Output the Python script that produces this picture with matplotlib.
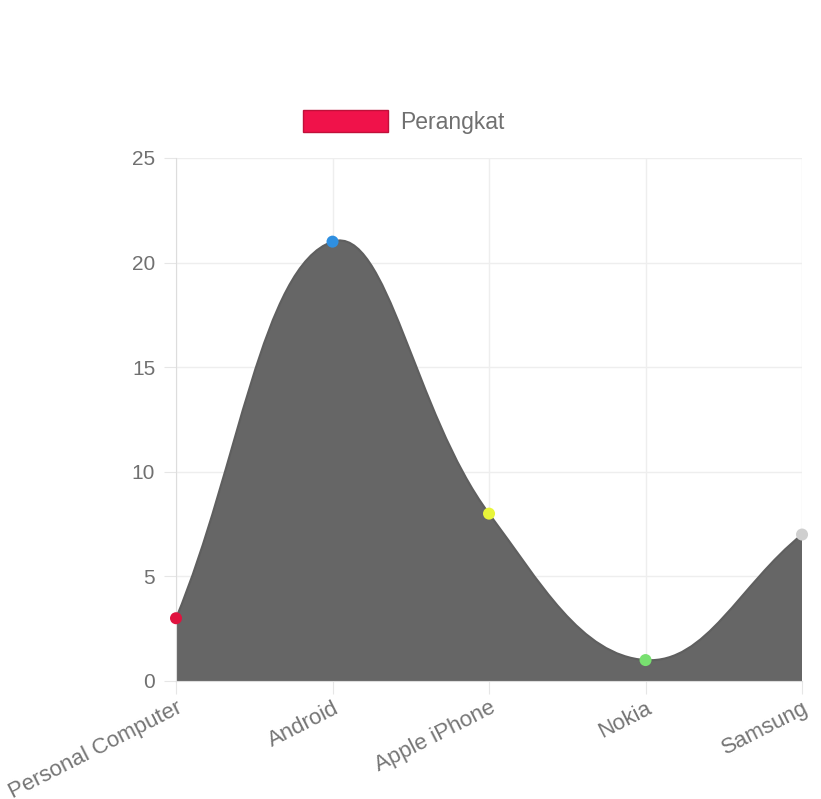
import numpy as np
import matplotlib
matplotlib.use("Agg")
import matplotlib.pyplot as plt
from matplotlib.path import Path
from matplotlib.patches import PathPatch, Patch

# data
labels = ["Personal Computer", "Android", "Apple iPhone", "Nokia", "Samsung"]
values = [3, 21, 8, 1, 7]
point_colors = ["#e0133f", "#2f8fe0", "#e8f53a", "#78e070", "#cfcfcf"]
series_name = "Perangkat"

plt.rcParams["font.family"] = ["Liberation Sans", "DejaVu Sans"]

fig = plt.figure(figsize=(8.21, 7.99), dpi=100)
ax = fig.add_axes([0.2144, 0.1477, 0.7625, 0.6546])
ax.set_xlim(0, len(labels) - 1)
ax.set_ylim(0, 25)

# Chart.js style bezier curve (tension 0.4), control points computed in pixel space
xs = np.arange(len(values), dtype=float)
pts = ax.transData.transform(np.column_stack([xs, values]))
tension = 0.4
cps = []
for i in range(len(pts)):
    prev = pts[i - 1] if i > 0 else pts[i]
    cur = pts[i]
    nxt = pts[i + 1] if i < len(pts) - 1 else pts[i]
    d01 = np.hypot(*(cur - prev))
    d12 = np.hypot(*(nxt - cur))
    tot = d01 + d12
    s01 = d01 / tot if tot else 0
    s12 = d12 / tot if tot else 0
    c1 = cur - tension * s01 * (nxt - prev)
    c2 = cur + tension * s12 * (nxt - prev)
    cps.append((c1, c2))

inv = ax.transData.inverted()
verts = [tuple(inv.transform(pts[0]))]
codes = [Path.MOVETO]
for i in range(1, len(pts)):
    verts += [tuple(inv.transform(cps[i - 1][1])), tuple(inv.transform(cps[i][0])),
              tuple(inv.transform(pts[i]))]
    codes += [Path.CURVE4] * 3
fill_verts = verts + [(xs[-1], 0), (xs[0], 0), verts[0]]
fill_codes = codes + [Path.LINETO, Path.LINETO, Path.CLOSEPOLY]

ax.add_patch(PathPatch(Path(fill_verts, fill_codes), facecolor="#666666",
                       edgecolor="none", zorder=2))
ax.add_patch(PathPatch(Path(verts, codes), facecolor="none",
                       edgecolor="#5f5f5f", lw=1.5, zorder=3))

ax.scatter(xs, values, s=75, c=point_colors, zorder=4, clip_on=False, linewidths=0)

# axes styling
ax.set_yticks(range(0, 26, 5))
ax.set_xticks(xs)
ax.set_xticklabels(labels, rotation=27, ha="right", va="top", rotation_mode="anchor",
                   fontsize=16, color="#757575")
ax.tick_params(axis="y", labelsize=15, labelcolor="#707070", length=9, pad=6,
               color="#e6e6e6")
ax.tick_params(axis="x", length=9, pad=3, color="#e6e6e6")
ax.grid(True, color="#eeeeee", lw=1)
ax.set_axisbelow(True)
for s in ["top", "right"]:
    ax.spines[s].set_visible(False)
ax.spines["left"].set_color("#dddddd")
ax.spines["bottom"].set_color("#dddddd")

# legend
leg = fig.legend(handles=[Patch(facecolor="#f0124a", edgecolor="#c0103a")],
                 labels=[series_name], loc="center", bbox_to_anchor=(0.492, 0.847),
                 frameon=False, fontsize=16.5, handlelength=3.7, handleheight=1.1,
                 handletextpad=0.55)
for t in leg.get_texts():
    t.set_color("#707070")

fig.savefig("out.png", dpi=100)
